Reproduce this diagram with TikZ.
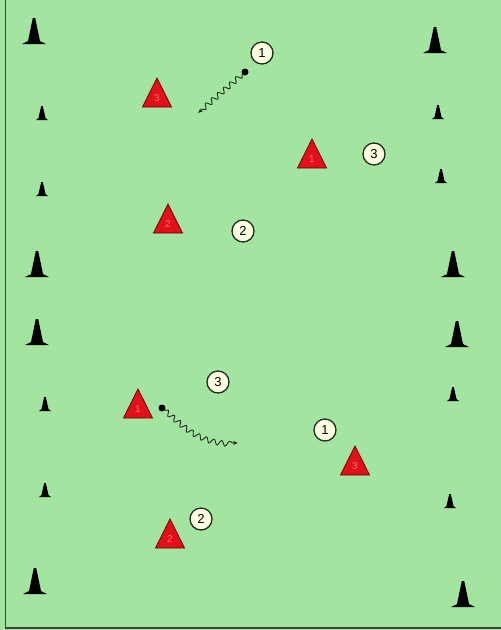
\documentclass[tikz,border=0pt]{standalone}
\usepackage{fontspec}
\setmainfont{Liberation Sans}
\usetikzlibrary{shapes.geometric,decorations.pathmorphing,arrows.meta}
\definecolor{pitch}{RGB}{163,228,160}
\definecolor{conered}{RGB}{226,16,24}
\definecolor{darkred}{RGB}{110,0,0}
\definecolor{lblred}{RGB}{250,110,110}
\definecolor{cream}{RGB}{255,255,228}
\definecolor{ink}{RGB}{30,45,30}
\begin{document}
\begin{tikzpicture}[x=1pt,y=-1pt,
  player/.style={circle,draw=ink,line width=1.3pt,fill=cream,minimum size=22pt,inner sep=0pt,font=\fontsize{13}{13}\selectfont},
  defender/.style={isosceles triangle, shape border rotate=90, isosceles triangle stretches, minimum width=29pt, minimum height=29pt, inner sep=0pt, fill=conered, draw=darkred, line width=0.8pt, anchor=apex, text=lblred, font=\fontsize{10}{10}\selectfont},
  ball/.style={circle,fill=black,inner sep=0pt,minimum size=7pt},
  dribble/.style={draw=ink,line width=0.9pt,-{Stealth[length=5pt,width=4pt,open]}, decorate, decoration={snake,amplitude=2.6pt,segment length=8pt,post length=5pt}},
  bigcone/.pic={\fill[black] (-12,0) -- (12,0) -- (6,-3) -- (1.2,-26) -- (-1.2,-26) -- (-6,-3) -- cycle;},
  smallcone/.pic={\fill[black] (-6,0) -- (6,0) -- (3.5,-2) -- (0.8,-14) -- (-0.8,-14) -- (-3.5,-2) -- cycle;}
]
\useasboundingbox (0,0) rectangle (501,630);
\fill[pitch] (0,0) rectangle (501,630);
\draw[line width=1.5pt, black!75] (5.5,0) -- (5.5,628) -- (501,628);

% cones left
\pic at (34,44) {bigcone};
\pic at (42,120) {smallcone};
\pic at (42,196) {smallcone};
\pic at (37,277) {bigcone};
\pic at (37,345) {bigcone};
\pic at (45,411) {smallcone};
\pic at (45,497) {smallcone};
\pic at (35,594) {bigcone};
% cones right
\pic at (435,53) {bigcone};
\pic at (438,119) {smallcone};
\pic at (441,183) {smallcone};
\pic at (453,277) {bigcone};
\pic at (457,347) {bigcone};
\pic at (453,401) {smallcone};
\pic at (450,508) {smallcone};
\pic at (463,607) {bigcone};

% defenders
\node[defender] (t1) at (157,77) {3};
\node[defender] (t2) at (312,138) {1};
\node[defender] (t3) at (168,203) {2};
\node[defender] (t4) at (138,388) {1};
\node[defender] (t5) at (355,445) {3};
\node[defender] (t6) at (170,518) {2};

% players
\node[player] (p1) at (262,53) {1};
\node[player] (p2) at (374,154) {3};
\node[player] (p3) at (243,231) {2};
\node[player] (p4) at (218,382) {3};
\node[player] (p5) at (325,430) {1};
\node[player] (p6) at (201,519) {2};

% balls and dribbles
\node[ball] (b1) at (245,72) {};
\node[ball] (b2) at (162,408) {};
\coordinate (e1) at (198,113);
\coordinate (e2) at (238,443);
\draw[dribble] (b1) -- (e1);
\draw[dribble] (b2) .. controls (185,428) and (198,443) .. (e2);
\end{tikzpicture}
\end{document}
